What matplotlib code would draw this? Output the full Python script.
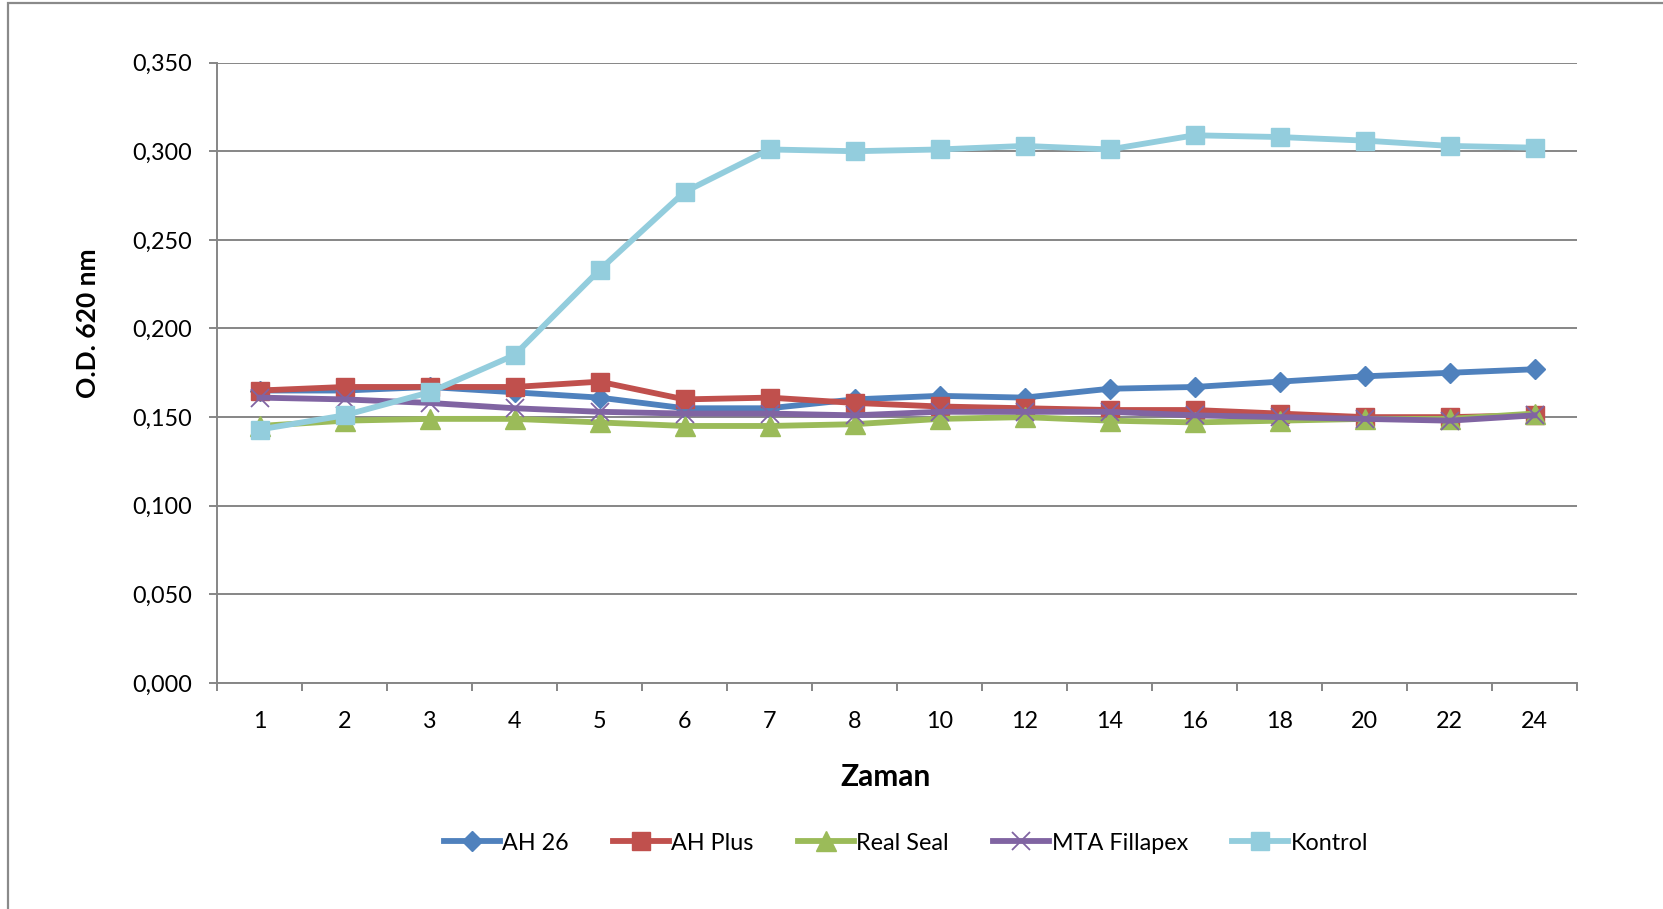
import matplotlib
matplotlib.use("Agg")
import matplotlib.pyplot as plt
from matplotlib.patches import Rectangle
from matplotlib.ticker import FixedLocator, FuncFormatter, NullFormatter


plt.rcParams["font.family"] = ["Lato", "DejaVu Sans"]

# measurement times (hours)
times = ["1", "2", "3", "4", "5", "6", "7", "8", "10", "12", "14", "16", "18", "20", "22", "24"]

ah26 = [0.165, 0.165, 0.167, 0.164, 0.161, 0.155, 0.155, 0.160, 0.162, 0.161,
        0.166, 0.167, 0.170, 0.173, 0.175, 0.177]
ah_plus = [0.165, 0.167, 0.167, 0.167, 0.170, 0.160, 0.161, 0.158, 0.156, 0.155,
           0.154, 0.154, 0.152, 0.150, 0.150, 0.151]
real_seal = [0.145, 0.148, 0.149, 0.149, 0.147, 0.145, 0.145, 0.146, 0.149, 0.150,
             0.148, 0.147, 0.148, 0.149, 0.149, 0.152]
mta_fillapex = [0.161, 0.160, 0.158, 0.155, 0.153, 0.152, 0.152, 0.151, 0.153, 0.153,
                0.153, 0.151, 0.150, 0.149, 0.148, 0.151]
kontrol = [0.143, 0.151, 0.164, 0.185, 0.233, 0.277, 0.301, 0.300, 0.301, 0.303,
           0.301, 0.309, 0.308, 0.306, 0.303, 0.302]

y_ticks = [0.0, 0.05, 0.10, 0.15, 0.20, 0.25, 0.30, 0.35]

series = [
    ("AH 26", ah26, "#4F81BD", dict(marker="D", markersize=10)),
    ("AH Plus", ah_plus, "#C0504D", dict(marker="s", markersize=13)),
    ("Real Seal", real_seal, "#9BBB59", dict(marker="^", markersize=14)),
    ("MTA Fillapex", mta_fillapex, "#8064A2", dict(marker="x", markersize=13, markeredgewidth=1.3)),
    ("Kontrol", kontrol, "#93CDDD", dict(marker="s", markersize=13)),
]

W, H = 1663, 909
grid_color = "#868686"

fig = plt.figure(figsize=(W / 100, H / 100), dpi=100)
fig.patch.set_facecolor("white")

# chart area border, cut off at the right and bottom edges
fig.patches.append(Rectangle((8 / W, -0.2), 1.2, 1.2 - 2.5 / H,
                             transform=fig.transFigure, fill=False,
                             edgecolor="#8A8A8A", linewidth=1.6))

ax = fig.add_axes([217 / W, 1 - 683 / H, (1577 - 217) / W, (683 - 62.6) / H])

x = list(range(len(times)))
handles = []
for label, values, color, style in series:
    line, = ax.plot(x, values, color=color, linewidth=4.2, label=label,
                    markerfacecolor=color, markeredgecolor=color,
                    solid_joinstyle="round", clip_on=False, **style)
    handles.append(line)

ax.set_xlim(-0.5, len(times) - 0.5)
ax.set_ylim(0, 0.35)

# category boundaries carry the tick marks, the centres carry the labels
ax.xaxis.set_major_locator(FixedLocator([i - 0.5 for i in range(len(times) + 1)]))
ax.xaxis.set_major_formatter(NullFormatter())
ax.xaxis.set_minor_locator(FixedLocator(x))
ax.xaxis.set_minor_formatter(FuncFormatter(lambda v, p: times[int(round(v))]))
ax.tick_params(axis="x", which="major", length=6, width=1.4, color=grid_color, direction="out")
ax.tick_params(axis="x", which="minor", length=0, pad=20, labelsize=16.8)

ax.set_yticks(y_ticks)
ax.yaxis.set_major_formatter(FuncFormatter(lambda v, p: f"{v:.3f}".replace(".", ",")))
ax.tick_params(axis="y", length=6, width=1.4, color=grid_color, direction="out",
               pad=12, labelsize=16.8)

ax.grid(axis="y", color=grid_color, linewidth=1.4)
ax.set_axisbelow(True)
for side in ["top", "right"]:
    ax.spines[side].set_visible(False)
for side in ["left", "bottom"]:
    ax.spines[side].set_color(grid_color)
    ax.spines[side].set_linewidth(1.4)

fig.text(88 / W, 1 - 323 / H, "O.D. 620 nm", rotation=90, ha="center", va="center",
         fontsize=19, fontweight="bold")
fig.text(885 / W, 1 - 777 / H, "Zaman", ha="center", va="center",
         fontsize=21.5, fontweight="bold")

fig.legend(handles=handles, loc="center", bbox_to_anchor=(906 / W, 1 - 843 / H),
           ncol=5, frameon=False, fontsize=16.8, handlelength=2.4,
           handletextpad=0.1, columnspacing=1.9)

fig.savefig("out.png", dpi=100, facecolor="white")
